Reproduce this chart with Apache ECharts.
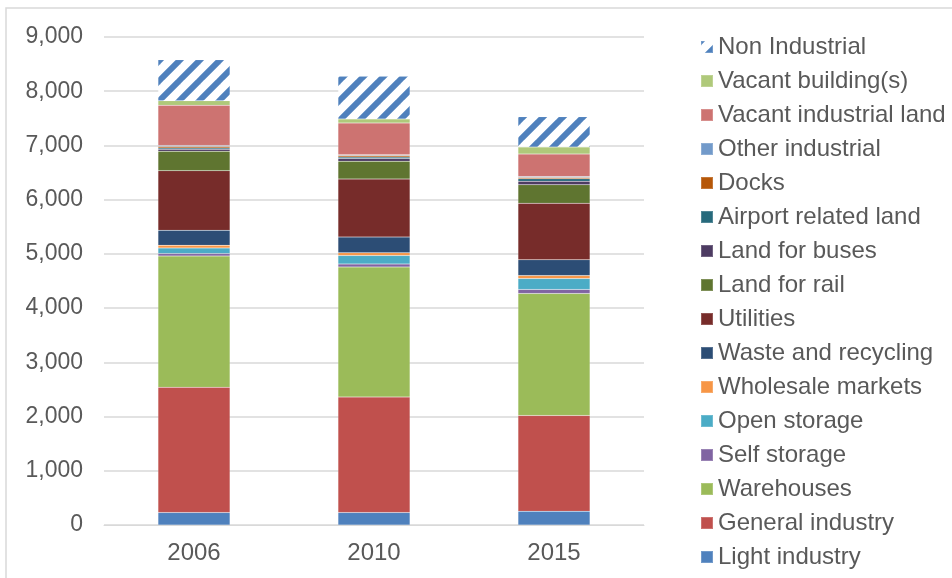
<!DOCTYPE html>
<html>
<head>
<meta charset="utf-8">
<script src="https://cdn.jsdelivr.net/npm/echarts@6/dist/echarts.min.js"></script>
<style>
  html, body { margin: 0; padding: 0; background: #fff; }
  #chart { width: 952px; height: 578px; }
</style>
</head>
<body>
<div id="chart"></div>
<script>
// years on the x axis
const years = ['2006', '2010', '2015'];

// hectares per use, bottom of the stack first
const lightIndustry = [230, 230, 255];
const generalIndustry = [2310, 2130, 1765];
const warehouses = [2420, 2400, 2250];
const selfStorage = [45, 55, 75];
const openStorage = [105, 155, 200];
const wholesaleMarkets = [50, 50, 55];
const wasteRecycling = [275, 290, 290];
const utilities = [1100, 1070, 1045];
const landForRail = [360, 330, 340];
const landForBuses = [35, 50, 65];
const airportLand = [25, 25, 45];
const docks = [25, 30, 25];
const otherIndustrial = [20, 15, 15];
const vacantLand = [740, 585, 415];
const vacantBuildings = [85, 75, 130];
const nonIndustrial = [755, 785, 560];

const yTicks = [0, 1000, 2000, 3000, 4000, 5000, 6000, 7000, 8000, 9000];

// diagonal stripes for the Non Industrial block
function makeHatch () {
  const c = document.createElement('canvas');
  c.width = 20; c.height = 20;
  const ctx = c.getContext('2d');
  ctx.fillStyle = '#ffffff';
  ctx.fillRect(0, 0, 20, 20);
  ctx.strokeStyle = '#4F81BD';
  ctx.lineWidth = 6;
  for (let k = -1; k <= 1; k++) {
    ctx.beginPath();
    ctx.moveTo(k * 20 - 2, 22);
    ctx.lineTo(k * 20 + 22, -2);
    ctx.stroke();
  }
  return c;
}

const layers = [
  ['Light industry', lightIndustry, '#4F81BD'],
  ['General industry', generalIndustry, '#C0504D'],
  ['Warehouses', warehouses, '#9BBB59'],
  ['Self storage', selfStorage, '#8064A2'],
  ['Open storage', openStorage, '#4BACC6'],
  ['Wholesale markets', wholesaleMarkets, '#F79646'],
  ['Waste and recycling', wasteRecycling, '#2C4D75'],
  ['Utilities', utilities, '#772C2A'],
  ['Land for rail', landForRail, '#5F7530'],
  ['Land for buses', landForBuses, '#4D3B62'],
  ['Airport related land', airportLand, '#276A7C'],
  ['Docks', docks, '#B65708'],
  ['Other industrial', otherIndustrial, '#729ACA'],
  ['Vacant industrial land', vacantLand, '#CD7371'],
  ['Vacant building(s)', vacantBuildings, '#AFC97A'],
  ['Non Industrial', nonIndustrial, { image: makeHatch(), repeat: 'repeat' }]
];

const chart = echarts.init(document.getElementById('chart'));

const series = layers.map(function (l) {
  return {
    name: l[0],
    type: 'bar',
    stack: 'total',
    barWidth: 72,
    data: l[1],
    itemStyle: {
      color: l[2],
      borderColor: 'rgba(255,255,255,0.2)',
      borderWidth: 0.5
    }
  };
});

const option = {
  animation: false,
  textStyle: { fontFamily: 'Liberation Sans, Arial, sans-serif' },
  graphic: [{
    type: 'rect',
    shape: { x: 6, y: 8, width: 960, height: 600 },
    style: { fill: 'none', stroke: '#D9D9D9', lineWidth: 1.5 },
    silent: true
  }],
  grid: { left: 104, right: 308, top: 37, bottom: 53 },
  legend: {
    orient: 'vertical',
    left: 700,
    top: 35,
    padding: 0,
    icon: 'rect',
    itemWidth: 12,
    itemHeight: 12,
    itemGap: 10,
    data: layers.map(function (l) { return l[0]; }).reverse(),
    textStyle: { fontSize: 24, color: '#595959' }
  },
  xAxis: {
    type: 'category',
    data: years,
    axisTick: { show: false },
    axisLine: { lineStyle: { color: '#D9D9D9', width: 1 } },
    axisLabel: { fontSize: 24, color: '#595959', margin: 16 }
  },
  yAxis: {
    type: 'value',
    min: yTicks[0],
    max: yTicks[yTicks.length - 1],
    interval: 1000,
    axisLine: { show: false },
    axisTick: { show: false },
    splitLine: { lineStyle: { color: '#D9D9D9', width: 1.5 } },
    axisLabel: {
      fontSize: 23,
      color: '#595959',
      margin: 21,
      formatter: function (v) { return v.toLocaleString('en-US'); }
    }
  },
  series: series
};

chart.setOption(option);
</script>
</body>
</html>
